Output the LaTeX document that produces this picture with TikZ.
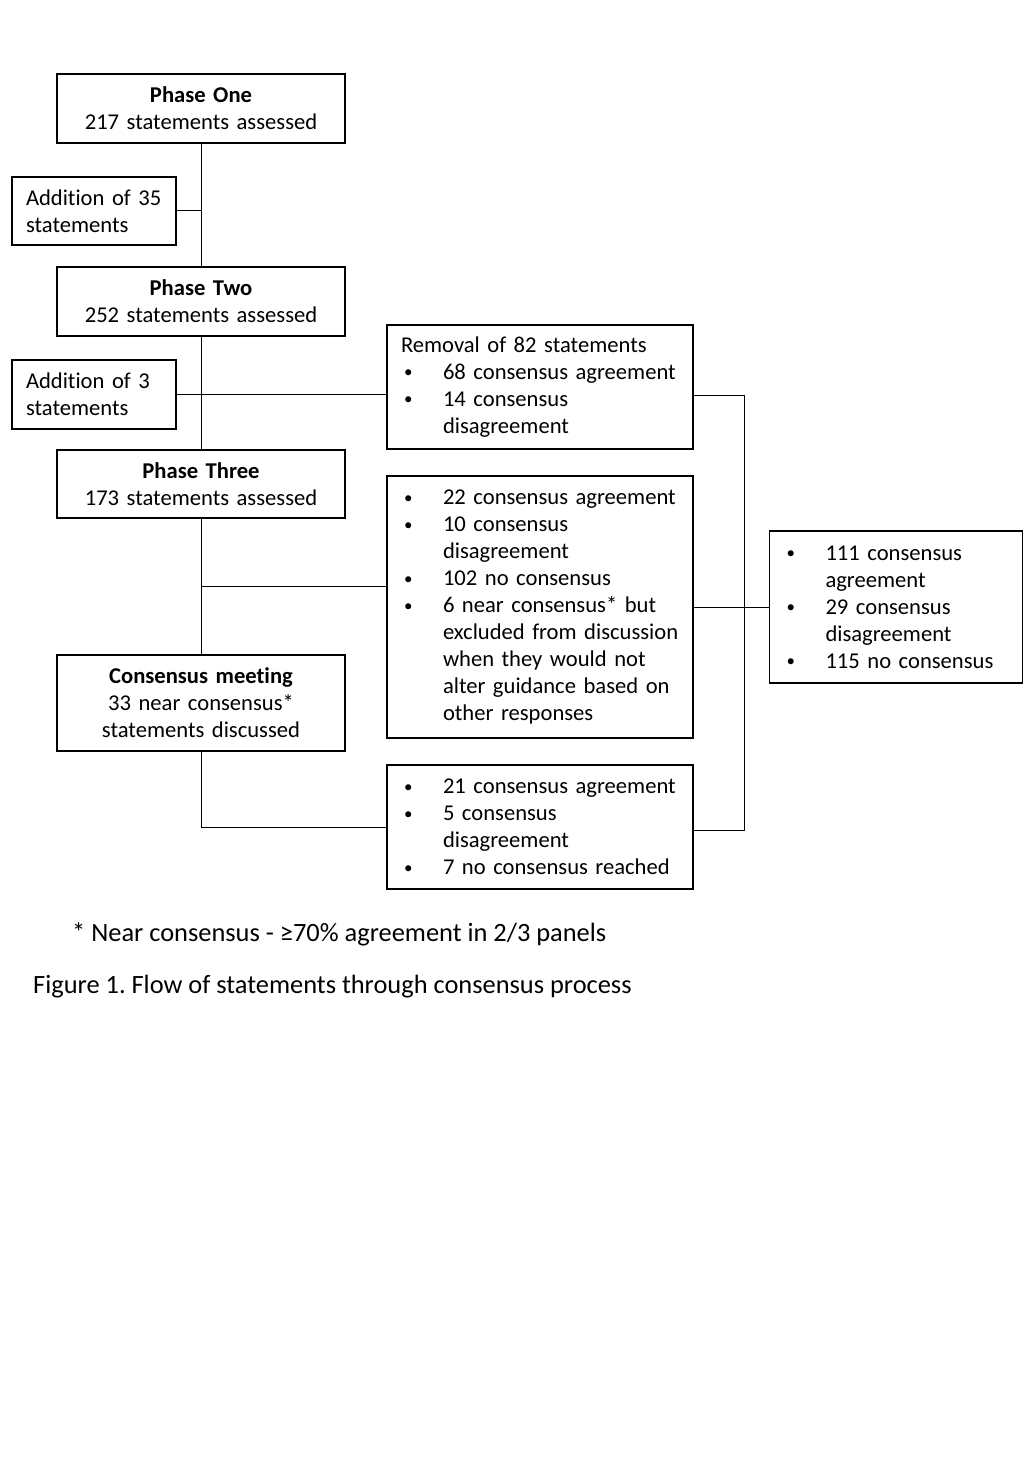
\documentclass[tikz,border=0pt]{standalone}
\usepackage{fontspec}
\setmainfont{Carlito}[Ligatures={NoCommon,NoRequired,NoContextual,TeX}]
\frenchspacing
\newcommand{\bul}{\makebox[42pt][l]{\hspace{3pt}\raisebox{1.5pt}{\scalebox{0.75}{•}}}}
\newcommand{\ind}{\hspace*{42pt}}
\newcommand{\tI}{t\kern0pt i}
\tikzset{
  box/.style={draw, line width=1.6pt, fill=white, inner xsep=14pt, inner ysep=0pt,
    font=\fontsize{22.6}{27}\selectfont},
  lbox/.style={box, align=left},
  cbox/.style={box, align=center},
  conn/.style={line width=1pt},
}
\begin{document}
\begin{tikzpicture}[x=1pt,y=-1pt]
\useasboundingbox (0,0) rectangle (1024,1479);
% left column
\node[cbox, minimum width=288, minimum height=69, text width=260] (p1) at (201,108.5)
  {\textbf{Phase One}\\217 statements assessed};
\node[lbox, minimum width=164, minimum height=68, text width=136] (a35) at (94,211)
  {Addi\tI on of 35\\statements};
\node[cbox, minimum width=288, minimum height=69, text width=260] (p2) at (201,301.5)
  {\textbf{Phase Two}\\252 statements assessed};
\node[lbox, minimum width=164, minimum height=69, text width=136] (a3) at (94,394.5)
  {Addi\tI on of 3\\statements};
\node[cbox, minimum width=288, minimum height=68, text width=260] (p3) at (201,484)
  {\textbf{Phase Three}\\173 statements assessed};
\node[cbox, minimum width=288, minimum height=96, text width=260] (cm) at (201,703)
  {\textbf{Consensus mee\tI ng}\\33 near consensus*\\statements discussed};
% middle column
\node[lbox, minimum width=306, minimum height=124, text width=278] (rem) at (540,387)
  {Removal of 82 statements\\\bul 68 consensus agreement\\\bul 14 consensus\\\ind disagreement};
\node[lbox, minimum width=306, minimum height=262, text width=278] (mid) at (540,607)
  {\bul 22 consensus agreement\\\bul 10 consensus\\\ind disagreement\\\bul 102 no consensus\\\bul 6 near consensus* but\\\ind excluded from discussion\\\ind when they would not\\\ind alter guidance based on\\\ind other responses};
\node[lbox, minimum width=306, minimum height=124, text width=278] (bot) at (540,827)
  {\bul 21 consensus agreement\\\bul 5 consensus\\\ind disagreement\\\bul 7 no consensus reached};
% right column
\node[lbox, minimum width=253, minimum height=152, text width=225] (rt) at (896,607)
  {\bul 111 consensus\\\ind agreement\\\bul 29 consensus\\\ind disagreement\\\bul 115 no consensus};
% connectors
\coordinate (j3) at (201,586);
\coordinate (k1) at (744,395);
\coordinate (k2) at (744,830);
\draw[conn] (p1.south) -- (p2.north);
\draw[conn] (p2.south) -- (p3.north);
\draw[conn] (p3.south) -- (cm.north);
\draw[conn] (a35.east) -- (a35.east -| p1.south);
\draw[conn] (a3.east) -- (a3.east -| rem.west);
\draw[conn] (j3) -- (j3 -| mid.west);
\draw[conn] (cm.south) |- (bot.west);
\draw[conn] (k1 -| rem.east) -- (k1) -- (k2) -- (k2 -| bot.east);
\draw[conn] (mid.east) -- (rt.west);
% notes
\node[anchor=west, inner sep=0pt, font=\fontsize{26.4}{32}\selectfont] (fn) at (72,934)
  {* Near consensus - ≥70\% agreement in 2/3 panels};
\node[anchor=west, inner sep=0pt, font=\fontsize{26.4}{32}\selectfont] (cap) at (33,987)
  {Figure 1. Flow of statements through consensus process};
\end{tikzpicture}
\end{document}
